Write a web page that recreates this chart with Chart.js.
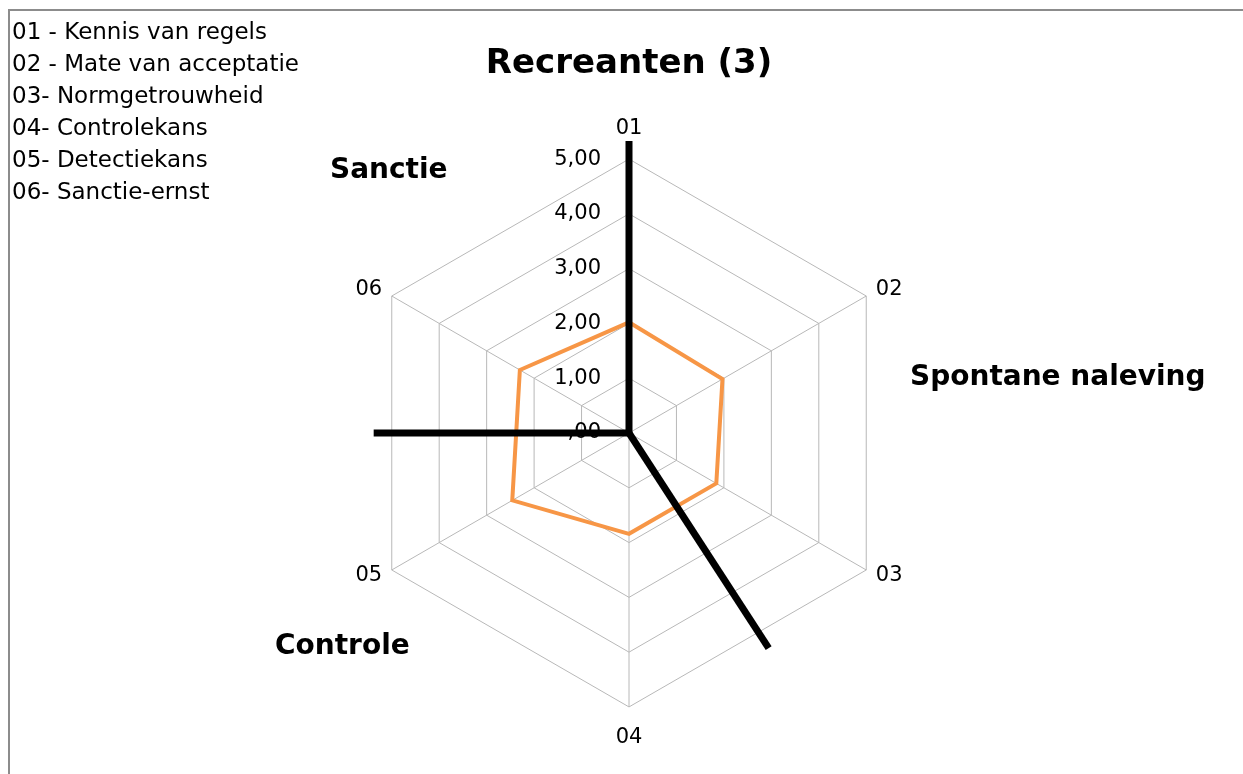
<!DOCTYPE html>
<html>
<head>
<meta charset="utf-8">
<script src="https://cdn.jsdelivr.net/npm/chart.js@4.4.1/dist/chart.umd.min.js"></script>
<style>
  body { margin: 0; background: #fff; }
  #wrap { position: relative; width: 1243px; height: 774px; overflow: hidden; }
  #frame { position: absolute; left: 8px; top: 9px; width: 1300px; height: 900px;
           border-left: 2px solid #8c8c8c; border-top: 2px solid #8c8c8c; }
  canvas { position: absolute; left: 0; top: 0; }
</style>
</head>
<body>
<div id="wrap">
  <div id="frame"></div>
  <canvas id="chart"></canvas>
</div>
<script>
const labels = ['01', '02', '03', '04', '05', '06']
const recreanten = [2.02, 1.97, 1.84, 1.84, 2.46, 2.30]
const tickLabels = [',00', '1,00', '2,00', '3,00', '4,00', '5,00']

// legend text top-left
const legendLines = [
  '01 - Kennis van regels',
  '02 - Mate van acceptatie',
  '03- Normgetrouwheid',
  '04- Controlekans',
  '05- Detectiekans',
  '06- Sanctie-ernst'
]

// black divider lines between the groups: angle (deg, clockwise from top) and reach in scale units
const dividerAngles = [0, 147, 270]
const dividerReach = [5.33, 4.68, 4.66]

// group names
const groupNames = ['Sanctie', 'Spontane naleving', 'Controle']
const groupPos = [[330, 171], [910, 378], [275, 647]]

const font = 'DejaVu Sans'

const extras = {
  id: 'extras',
  afterDatasetsDraw(chart) {
    const ctx = chart.ctx
    const r = chart.scales.r
    ctx.save()
    // tick labels, right aligned left of the 01 axis
    ctx.fillStyle = '#000'
    ctx.font = '21px "' + font + '"'
    ctx.textAlign = 'right'
    ctx.textBaseline = 'middle'
    r.ticks.forEach((t, i) => {
      const d = r.getDistanceFromCenterForValue(t.value)
      ctx.fillText(tickLabels[i], r.xCenter - 28, r.yCenter - d)
    })
    // divider lines
    ctx.strokeStyle = '#000'
    ctx.lineWidth = 7
    dividerAngles.forEach((a, i) => {
      const d = r.getDistanceFromCenterForValue(dividerReach[i])
      const rad = a * Math.PI / 180
      ctx.beginPath()
      ctx.moveTo(r.xCenter, r.yCenter)
      ctx.lineTo(r.xCenter + d * Math.sin(rad), r.yCenter - d * Math.cos(rad))
      ctx.stroke()
    })
    // title
    ctx.textAlign = 'center'
    ctx.font = 'bold 34px "' + font + '"'
    ctx.fillText('Recreanten (3)', r.xCenter, 64)
    // group names
    ctx.textAlign = 'left'
    ctx.font = 'bold 28px "' + font + '"'
    groupNames.forEach((g, i) => ctx.fillText(g, groupPos[i][0], groupPos[i][1]))
    // legend list
    ctx.font = '23px "' + font + '"'
    legendLines.forEach((l, i) => ctx.fillText(l, 12, 33 + i * 32))
    ctx.restore()
  }
}

new Chart(document.getElementById('chart'), {
  type: 'radar',
  data: {
    labels: labels,
    datasets: [{
      label: 'Recreanten (3)',
      data: recreanten,
      borderColor: '#f79646',
      borderWidth: 4,
      backgroundColor: 'transparent',
      fill: false,
      pointRadius: 0
    }]
  },
  options: {
    responsive: true,
    maintainAspectRatio: false,
    animation: false,
    layout: { padding: { top: 128, bottom: 36, left: 200, right: 185 } },
    plugins: { legend: { display: false }, tooltip: { enabled: false } },
    scales: {
      r: {
        min: 0,
        max: 5,
        ticks: { stepSize: 1, display: false, callback: (v, i) => tickLabels[i] },
        grid: { color: '#b8b8b8', lineWidth: 1 },
        angleLines: { color: '#b8b8b8', lineWidth: 1 },
        pointLabels: {
          color: '#000',
          font: { family: font, size: 21, lineHeight: 0.05 },
          padding: (c) => (c.index === 0 || c.index === 3) ? 30 : 11
        }
      }
    }
  },
  plugins: [extras]
})
</script>
</body>
</html>
